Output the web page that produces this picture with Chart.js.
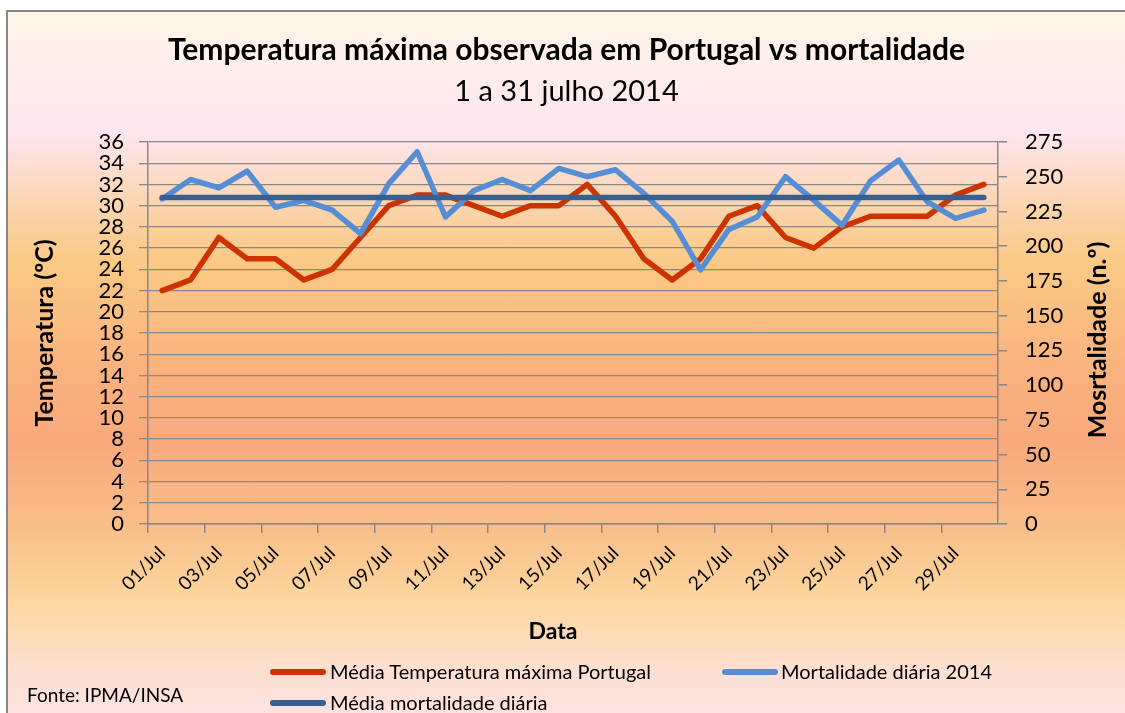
<!DOCTYPE html>
<html>
<head>
<meta charset="utf-8">
<script src="https://cdn.jsdelivr.net/npm/chart.js@4"></script>
<style>
    body { margin: 0; background: #fff; }
    #wrap { position: relative; width: 1125px; height: 713px; overflow: hidden; font-family: Lato, sans-serif; }
    #frame {
        position: absolute; left: 6px; top: 10px; width: 1130px; height: 720px;
        border: 2px solid #878787;
        background: linear-gradient(to bottom,
            #fff6e8 0px, #fde6ee 120px, #fbd3aa 200px, #fbc985 250px,
            #f9b27e 360px, #f9a97c 430px, #f9c08a 520px, #fcd79f 590px,
            #fde0d2 660px, #fde3e0 703px);
    }
    #chart { position: absolute; left: 0; top: 0; }
    .leg { position: absolute; font-size: 20px; color: #000; white-space: nowrap; }
    .sw { position: absolute; height: 6px; border-radius: 3px; }
</style>
</head>
<body>
<div id="wrap">
    <div id="frame"></div>
    <canvas id="chart" width="1125" height="713"></canvas>
    <div class="sw" style="left:270px; top:669px; width:56px; background:#cc3300;"></div>
    <div class="leg" style="left:330px; top:659px;">Média Temperatura máxima Portugal</div>
    <div class="sw" style="left:722px; top:669px; width:56px; background:#558ed5;"></div>
    <div class="leg" style="left:781px; top:659px;">Mortalidade diária 2014</div>
    <div class="sw" style="left:270px; top:700px; width:56px; background:#376092;"></div>
    <div class="leg" style="left:330px; top:690px;">Média mortalidade diária</div>
    <div class="leg" style="left:27px; top:683px; font-size:19px;">Fonte: IPMA/INSA</div>
</div>
<script>
// Days shown on the x axis
const days = ['01/Jul', '02/Jul', '03/Jul', '04/Jul', '05/Jul', '06/Jul', '07/Jul', '08/Jul', '09/Jul', '10/Jul',
              '11/Jul', '12/Jul', '13/Jul', '14/Jul', '15/Jul', '16/Jul', '17/Jul', '18/Jul', '19/Jul', '20/Jul',
              '21/Jul', '22/Jul', '23/Jul', '24/Jul', '25/Jul', '26/Jul', '27/Jul', '28/Jul', '29/Jul', '30/Jul'];

// Média temperatura máxima (ºC), left axis
const tempMax = [22, 23, 27, 25, 25, 23, 24, 27, 30, 31,
                 31, 30, 29, 30, 30, 32, 29, 25, 23, 25,
                 29, 30, 27, 26, 28, 29, 29, 29, 31, 32];

// Mortalidade diária 2014 (n.º), right axis
const mortality = [234, 248, 242, 254, 228, 233, 226, 209, 245, 268,
                   221, 240, 248, 240, 256, 250, 255, 238, 218, 183,
                   212, 221, 250, 233, 215, 247, 262, 232, 220, 226];

// Média mortalidade diária
const mortalityAvg = [235, 235, 235, 235, 235, 235, 235, 235, 235, 235,
                      235, 235, 235, 235, 235, 235, 235, 235, 235, 235,
                      235, 235, 235, 235, 235, 235, 235, 235, 235, 235];

const FONT = 'Lato, sans-serif';
const GRID = '#888888';

// Right axis title reads bottom to top, and the x title sits left of centre
const extraTitles = {
    id: 'extraTitles',
    afterDraw(chart) {
        const ctx = chart.ctx;
        ctx.save();
        ctx.fillStyle = '#000';
        ctx.textAlign = 'center';
        ctx.textBaseline = 'middle';
        ctx.font = 'bold 23px ' + FONT;
        ctx.fillText('Data', 553, 632);
        ctx.translate(1098, 340);
        ctx.rotate(-Math.PI / 2);
        ctx.font = 'bold 25px ' + FONT;
        ctx.fillText('Mosrtalidade (n.º)', 0, 0);
        ctx.restore();
    }
};

new Chart(document.getElementById('chart'), {
    type: 'line',
    data: {
        labels: days,
        datasets: [
            {
                label: 'Média Temperatura máxima Portugal',
                data: tempMax,
                yAxisID: 'y',
                borderColor: '#cc3300',
                borderWidth: 5.5,
                order: 2
            },
            {
                label: 'Mortalidade diária 2014',
                data: mortality,
                yAxisID: 'y2',
                borderColor: '#558ed5',
                borderWidth: 5.5,
                order: 1
            },
            {
                label: 'Média mortalidade diária',
                data: mortalityAvg,
                yAxisID: 'y2',
                borderColor: '#376092',
                borderWidth: 5.5,
                order: 0
            }
        ]
    },
    options: {
        responsive: false,
        animation: false,
        layout: { padding: { left: 8, right: 0, top: 0, bottom: 68 } },
        elements: {
            point: { radius: 0 },
            line: { tension: 0, borderCapStyle: 'round', borderJoinStyle: 'round' }
        },
        plugins: {
            legend: { display: false },
            tooltip: { enabled: false },
            title: {
                display: true,
                text: 'Temperatura máxima observada em Portugal vs mortalidade',
                color: '#000',
                font: { family: FONT, size: 30, weight: 'bold' },
                padding: { top: 32, bottom: 0 }
            },
            subtitle: {
                display: true,
                text: '1 a 31 julho 2014',
                color: '#000',
                font: { family: FONT, size: 29, weight: 'normal' },
                padding: { top: 6.6, bottom: 32.6 }
            }
        },
        scales: {
            x: {
                offset: true,
                afterFit(s) { s.height = 121; },
                grid: {
                    offset: true,
                    drawOnChartArea: false,
                    tickLength: 9,
                    lineWidth: 1.5,
                    color: c => (c.index % 2 === 0 ? GRID : 'rgba(0,0,0,0)')
                },
                border: { color: GRID, width: 1.5 },
                ticks: {
                    autoSkip: false,
                    maxRotation: 45,
                    minRotation: 45,
                    padding: 9,
                    color: '#000',
                    font: { family: FONT, size: 19 },
                    callback: function(v, i) { return i % 2 === 0 ? this.getLabelForValue(v) : ''; }
                }
            },
            y: {
                position: 'left',
                min: 0,
                max: 36,
                afterFit(s) { s.width = 140; },
                grid: { color: GRID, lineWidth: 1.3, tickLength: 9 },
                border: { color: GRID, width: 1.5 },
                ticks: {
                    stepSize: 2,
                    autoSkip: false,
                    padding: 15,
                    color: '#000',
                    font: { family: FONT, size: 22 }
                },
                title: {
                    display: true,
                    text: 'Temperatura (ºC)',
                    color: '#000',
                    font: { family: FONT, size: 25, weight: 'bold' },
                    padding: { top: 22, bottom: 0 }
                }
            },
            y2: {
                position: 'right',
                min: 0,
                max: 275,
                afterFit(s) { s.width = 127; },
                grid: { drawOnChartArea: false, color: GRID, lineWidth: 1.5, tickLength: 9 },
                border: { color: GRID, width: 1.5 },
                ticks: {
                    stepSize: 25,
                    autoSkip: false,
                    padding: 18,
                    color: '#000',
                    font: { family: FONT, size: 22 }
                }
            }
        }
    },
    plugins: [extraTitles]
});
</script>
</body>
</html>
